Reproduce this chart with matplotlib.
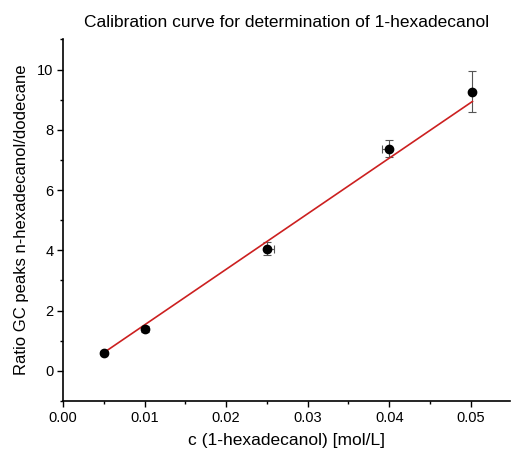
import matplotlib
matplotlib.use("Agg")
import matplotlib.pyplot as plt
import numpy as np
from matplotlib.ticker import MultipleLocator

plt.rcParams['font.family'] = ['Liberation Sans', 'DejaVu Sans']

conc = [0.005, 0.010, 0.025, 0.040, 0.0502]
ratio = [0.60, 1.39, 4.06, 7.37, 9.27]
ratio_err = [0.05, 0.10, 0.22, 0.28, 0.67]
conc_err_low = [0.0, 0.0, 0.0, 0.0009, 0.0]
conc_err_high = [0.0, 0.0, 0.0009, 0.0, 0.0]

fit_slope = 184.5
fit_intercept = -0.32
fit_range = [0.005, 0.0502]

fig = plt.figure(figsize=(5.12, 4.55), dpi=100)
ax = fig.add_axes([0.123, 0.1187, 0.873, 0.7946])

fx = np.array(fit_range)
ax.plot(fx, fit_slope * fx + fit_intercept, color='#cc2020', lw=1.2, zorder=2)
ax.errorbar(conc, ratio, yerr=ratio_err, xerr=[conc_err_low, conc_err_high], fmt='none',
            ecolor='#555555', elinewidth=0.8, capsize=3, capthick=0.8, zorder=1)
ax.plot(conc, ratio, 'o', color='black', ms=6, zorder=3)

ax.set_xlim(0, 0.0548)
ax.set_ylim(-1, 11)
ax.xaxis.set_major_locator(MultipleLocator(0.01))
ax.xaxis.set_minor_locator(MultipleLocator(0.005))
ax.yaxis.set_major_locator(MultipleLocator(2))
ax.yaxis.set_minor_locator(MultipleLocator(1))
ax.xaxis.set_major_formatter(plt.FuncFormatter(lambda v, p: f"{v:.2f}"))

for s in ['top', 'right']:
    ax.spines[s].set_visible(False)
for s in ['left', 'bottom']:
    ax.spines[s].set_linewidth(1.2)

ax.tick_params(which='major', direction='out', length=4, width=1, labelsize=10.5, pad=3)
ax.tick_params(which='minor', direction='out', length=2.5, width=1)

ax.set_title('Calibration curve for determination of 1-hexadecanol', fontsize=12.5, pad=9)
ax.set_xlabel('c (1-hexadecanol) [mol/L]', fontsize=12.5, labelpad=6)
ax.set_ylabel('Ratio GC peaks n-hexadecanol/dodecane', fontsize=12, labelpad=6)

fig.savefig('out.png', dpi=100)
